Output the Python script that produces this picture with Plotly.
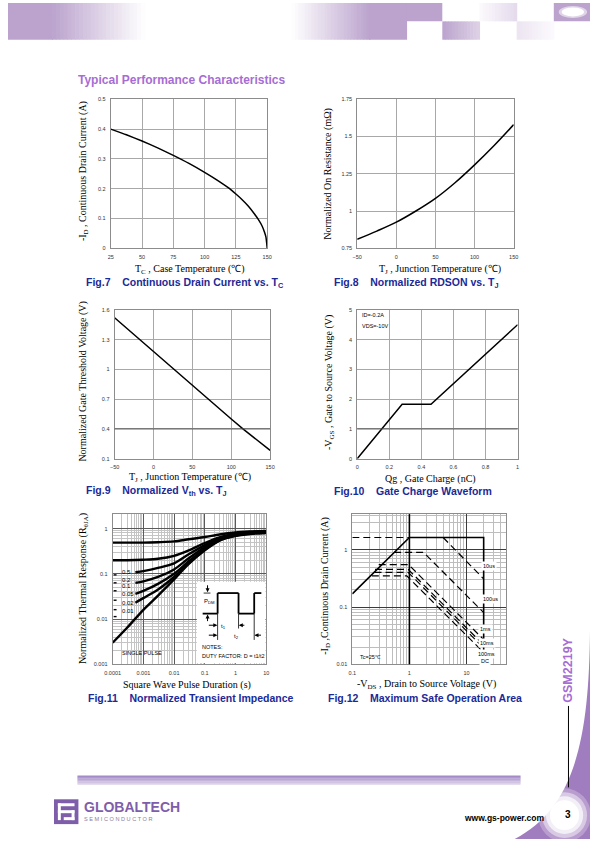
import plotly.graph_objects as go

W, H = 595, 842
SANS = "Liberation Sans, Arial, sans-serif"
SERIF = "Liberation Serif, Times New Roman, serif"
NAVY = "#1B2A96"
TITLE_PURPLE = "#A66DD4"
GRID = "#A8A8A8"
BORDER = "#8C8C8C"

# ---------------- data ----------------
fig7_tc = [25, 37.5, 50, 62.5, 75, 87.5, 100, 110, 120, 125, 130, 135, 140, 143, 146, 148, 149, 150]
fig7_id = [0.400, 0.381, 0.360, 0.337, 0.312, 0.285, 0.255, 0.229, 0.200, 0.182, 0.163, 0.141,
           0.114, 0.096, 0.074, 0.052, 0.037, 0.0]

fig8_tj = [-50, -25, 0, 25, 50, 75, 100, 125, 150]
fig8_rds = [0.81, 0.865, 0.925, 1.0, 1.085, 1.19, 1.31, 1.44, 1.58]

fig9_tj = [-50, -25, 0, 25, 50, 75, 100, 115, 130, 150]
fig9_vth = [1.52, 1.35, 1.18, 1.0, 0.84, 0.67, 0.50, 0.40, 0.31, 0.185]

fig10_qg = [0, 0.28, 0.46, 1.0]
fig10_vgs = [0, 1.83, 1.83, 4.5]

fig11_t_full = [1e-4, 3e-4, 1e-3, 3e-3, 1e-2, 3e-2, 0.1, 0.3, 1, 3, 10]
fig11_t_part = [5.5e-4, 1e-3, 3e-3, 1e-2, 3e-2, 0.1, 0.3, 1, 3, 10]
fig11_d05 = [0.49, 0.49, 0.49, 0.50, 0.52, 0.58, 0.65, 0.74, 0.82, 0.86, 0.89]
fig11_d02 = [0.20, 0.20, 0.205, 0.215, 0.25, 0.33, 0.48, 0.64, 0.77, 0.84, 0.87]
fig11_d01 = [0.108, 0.115, 0.135, 0.17, 0.27, 0.43, 0.62, 0.75, 0.82, 0.86]
fig11_d005 = [0.063, 0.068, 0.085, 0.125, 0.22, 0.39, 0.59, 0.73, 0.80, 0.85]
fig11_d002 = [0.036, 0.042, 0.06, 0.10, 0.19, 0.36, 0.57, 0.71, 0.79, 0.84]
fig11_d001 = [0.023, 0.029, 0.045, 0.085, 0.17, 0.34, 0.55, 0.70, 0.78, 0.83]
fig11_single = [0.003, 0.0065, 0.016, 0.033, 0.075, 0.165, 0.33, 0.54, 0.69, 0.76, 0.80]
fig11_labels = ["0.5", "0.2", "0.1", "0.05", "0.02", "0.01"]

fig12_limit_v = [0.1, 1.0, 20, 20]
fig12_limit_i = [0.17, 1.64, 1.64, 0.01]
fig12_top_v = [0.1, 1.0]
fig12_top_i = [1.64, 1.64]
fig12_10us_v = [3.9, 20]
fig12_10us_i = [1.64, 0.31]
fig12_100us_v = [0.54, 1.77, 20]
fig12_100us_i = [0.90, 0.90, 0.08]
fig12_1ms_v = [0.29, 0.97, 20]
fig12_1ms_i = [0.55, 0.55, 0.027]
fig12_10ms_v = [0.25, 0.95, 20]
fig12_10ms_i = [0.456, 0.456, 0.0217]
fig12_100ms_v = [0.245, 0.95, 20]
fig12_100ms_i = [0.404, 0.404, 0.0192]
fig12_dc_v = [0.22, 0.90, 20]
fig12_dc_i = [0.35, 0.35, 0.016]
fig12_labels = ["10us", "100us", "1ms", "10ms", "100ms", "DC"]


# ---------------- helpers ----------------
def X(x):
    return x / W


def Y(y):
    return 1 - y / H


def dom_x(a, b):
    return [a / W, b / W]


def dom_y(top, bot):
    return [1 - bot / H, 1 - top / H]


TICKFONT = dict(family=SANS, size=5.5, color="#333")


def axis(domain, rng, anchor, **kw):
    d = dict(domain=domain, range=rng, anchor=anchor, showgrid=True, gridcolor=GRID,
             gridwidth=0.8, showline=True, linecolor=BORDER, linewidth=1, mirror=True,
             zeroline=False, ticks="outside", ticklen=3, tickcolor="rgba(0,0,0,0)",
             tickfont=TICKFONT, fixedrange=True)
    d.update(kw)
    return d


shapes = []
annotations = []


def rect(x0, y0, x1, y1, color, layer="above"):
    shapes.append(dict(type="rect", xref="paper", yref="paper", x0=X(x0), x1=X(x1),
                       y0=Y(y1), y1=Y(y0), fillcolor=color, line=dict(width=0), layer=layer))


def lerp(c0, c1, t):
    return "rgb(%d,%d,%d)" % tuple(round(c0[i] + (c1[i] - c0[i]) * t) for i in range(3))


def hgrad(x0, x1, y0, y1, c0, c1, steps=24):
    for i in range(steps):
        xa = x0 + (x1 - x0) * i / steps
        xb = x0 + (x1 - x0) * (i + 1) / steps + 0.6
        rect(xa, y0, xb, y1, lerp(c0, c1, (i + 0.5) / steps))


def vgrad(x0, x1, y0, y1, c0, c1, steps=8):
    for i in range(steps):
        ya = y0 + (y1 - y0) * i / steps
        yb = y0 + (y1 - y0) * (i + 1) / steps + 0.4
        rect(x0, ya, x1, yb, lerp(c0, c1, (i + 0.5) / steps))


def pline(x0, y0, x1, y1, color="black", width=1, dash=None):
    ln = dict(color=color, width=width)
    if dash:
        ln["dash"] = dash
    shapes.append(dict(type="line", xref="paper", yref="paper", x0=X(x0), y0=Y(y0),
                       x1=X(x1), y1=Y(y1), line=ln, layer="above"))


def txt(x, y, s, size=10, color="black", family=SANS, xanchor="center", angle=0,
        bold=False, bg=None):
    a = dict(x=X(x), y=Y(y), xref="paper", yref="paper", text=("<b>%s</b>" % s) if bold else s,
             showarrow=False, font=dict(family=family, size=size, color=color),
             xanchor=xanchor, yanchor="middle", textangle=angle)
    if bg:
        a["bgcolor"] = bg
    annotations.append(a)


def arrow(hx, hy, tx, ty):
    annotations.append(dict(x=X(hx), y=Y(hy), xref="paper", yref="paper", ax=tx - hx,
                            ay=ty - hy, axref="pixel", ayref="pixel", showarrow=True,
                            arrowhead=2, arrowsize=0.8, arrowwidth=1, arrowcolor="black",
                            text=""))


# ---------------- traces ----------------
fig = go.Figure()
LW = dict(color="black", width=1.5)

fig.add_trace(go.Scatter(x=fig7_tc, y=fig7_id, mode="lines",
                         line=dict(LW, shape="spline", smoothing=0.5), xaxis="x", yaxis="y"))
fig.add_trace(go.Scatter(x=fig8_tj, y=fig8_rds, mode="lines", line=dict(LW, shape="spline"),
                         xaxis="x2", yaxis="y2"))
fig.add_trace(go.Scatter(x=fig9_tj, y=fig9_vth, mode="lines", line=LW, xaxis="x3", yaxis="y3"))
fig.add_trace(go.Scatter(x=fig10_qg, y=fig10_vgs, mode="lines", line=LW, xaxis="x4", yaxis="y4"))

TH = dict(color="black", width=2.4, shape="spline", smoothing=0.8)
for yy in (fig11_d05, fig11_d02, fig11_single):
    fig.add_trace(go.Scatter(x=fig11_t_full, y=yy, mode="lines", line=TH, xaxis="x5", yaxis="y5"))
for yy in (fig11_d01, fig11_d005, fig11_d002, fig11_d001):
    fig.add_trace(go.Scatter(x=fig11_t_part, y=yy, mode="lines", line=TH, xaxis="x5", yaxis="y5"))

fig.add_trace(go.Scatter(x=fig12_limit_v, y=fig12_limit_i, mode="lines",
                         line=dict(color="black", width=1.6), xaxis="x6", yaxis="y6"))
DASH = dict(color="black", width=1.2, dash="7px,4px")
for vv, ii in ((fig12_top_v, fig12_top_i), (fig12_10us_v, fig12_10us_i),
               (fig12_100us_v, fig12_100us_i), (fig12_1ms_v, fig12_1ms_i),
               (fig12_10ms_v, fig12_10ms_i), (fig12_100ms_v, fig12_100ms_i),
               (fig12_dc_v, fig12_dc_i)):
    fig.add_trace(go.Scatter(x=vv, y=ii, mode="lines", line=DASH, xaxis="x6", yaxis="y6"))

# ---------------- axes ----------------
lay = {}
lay["xaxis"] = axis(dom_x(105, 265), [25, 150], "y", tickvals=[25, 50, 75, 100, 125, 150])
lay["yaxis"] = axis(dom_y(97, 247), [0, 0.5], "x", tickvals=[0, 0.1, 0.2, 0.3, 0.4, 0.5],
                    ticktext=["0", "0.1", "0.2", "0.3", "0.4", "0.5"])
lay["xaxis2"] = axis(dom_x(357, 517), [-50, 150], "y2", tickvals=[-50, 0, 50, 100, 150])
lay["yaxis2"] = axis(dom_y(97, 247), [0.75, 1.75], "x2", tickvals=[0.75, 1, 1.25, 1.5, 1.75],
                     ticktext=["0.75", "1", "1.25", "1.5", "1.75"])
lay["xaxis3"] = axis(dom_x(109, 268), [-50, 150], "y3", tickvals=[-50, 0, 50, 100, 150])
lay["yaxis3"] = axis(dom_y(309, 459), [0.1, 1.6], "x3", tickvals=[0.1, 0.4, 0.7, 1, 1.3, 1.6],
                     ticktext=["0.1", "0.4", "0.7", "1", "1.3", "1.6"])
lay["xaxis4"] = axis(dom_x(357, 521), [0, 1], "y4", tickvals=[0, 0.2, 0.4, 0.6, 0.8, 1],
                     ticktext=["0", "0.2", "0.4", "0.6", "0.8", "1"])
lay["yaxis4"] = axis(dom_y(309, 459), [0, 5], "x4", tickvals=[0, 1, 2, 3, 4, 5])


def minor_vals(decades, digits=range(2, 10)):
    return [d * 10 ** e for e in decades for d in digits]


lay["xaxis5"] = axis(dom_x(107, 264), [-4, 1], "y5", type="log", gridcolor="#5A5A5A",
                     tickvals=[1e-4, 1e-3, 1e-2, 1e-1, 1, 10],
                     ticktext=["0.0001", "0.001", "0.01", "0.1", "1", "10"],
                     minor=dict(tickmode="array", tickvals=minor_vals(range(-4, 1)),
                                showgrid=True, gridcolor="#C4C4C4", gridwidth=0.6, ticks=""))
lay["yaxis5"] = axis(dom_y(515, 666), [-3, 0.315], "x5", type="log", gridcolor="#5A5A5A",
                     tickvals=[0.001, 0.01, 0.1, 1], ticktext=["0.001", "0.01", "0.1", "1"],
                     minor=dict(tickmode="array", tickvals=minor_vals(range(-3, 0)) + [2],
                                showgrid=True, gridcolor="#C4C4C4", gridwidth=0.6, ticks=""))
lay["xaxis6"] = axis(dom_x(352, 509), [-1, 1.69], "y6", type="log", gridcolor="#3A3A3A",
                     tickvals=[0.1, 1, 10], ticktext=["0.1", "1", "10"],
                     minor=dict(tickmode="array",
                                tickvals=minor_vals(range(-1, 1)) + [20, 30, 40],
                                showgrid=True, gridcolor="#BDBDBD", gridwidth=0.6, ticks=""))
lay["yaxis6"] = axis(dom_y(515, 666), [-2, 0.62], "x6", type="log", gridcolor="#3A3A3A",
                     tickvals=[0.01, 0.1, 1], ticktext=["0.01", "0.1", "1"],
                     minor=dict(tickmode="array", tickvals=minor_vals(range(-2, 0)) + [2, 3, 4],
                                showgrid=True, gridcolor="#BDBDBD", gridwidth=0.6, ticks=""))

# darker reference gridlines
shapes.append(dict(type="line", xref="x3 domain", yref="y3", x0=0, x1=1, y0=0.4, y1=0.4,
                   line=dict(color="#555", width=1), layer="above"))
shapes.append(dict(type="line", xref="x4 domain", yref="y4", x0=0, x1=1, y0=1, y1=1,
                   line=dict(color="#555", width=1), layer="above"))
shapes.append(dict(type="line", xref="x6", yref="y6 domain", x0=1, x1=1, y0=0, y1=1,
                   line=dict(color="black", width=1.6), layer="above"))

# ---------------- header ----------------
P = (187, 163, 205)
WH = (255, 255, 255)
rect(0, 0, 46, 37, lerp(P, P, 0))
hgrad(45, 140, 0, 37, P, WH)
hgrad(290, 370, 0, 37, WH, P)
rect(369, 0, 408, 37, lerp(P, P, 0))
rect(407, 0, 444, 18.5, lerp(P, P, 0))
hgrad(444, 482, 18.5, 37, P, (222, 210, 230), 12)
hgrad(482, 520, 0, 18.5, (252, 250, 253), (228, 218, 236), 12)
hgrad(520, 558, 18.5, 37, (236, 228, 242), (252, 250, 253), 12)
rect(558, 0, 595, 18.5, lerp(P, P, 0))
shapes.append(dict(type="circle", xref="paper", yref="paper", x0=X(563), x1=X(592), y0=Y(15),
                   y1=Y(3), fillcolor="rgba(255,255,255,0.55)", line=dict(width=0)))
shapes.append(dict(type="circle", xref="paper", yref="paper", x0=X(566), x1=X(589), y0=Y(13.5),
                   y1=Y(4.5), fillcolor="white", line=dict(width=0)))

txt(70, 78, "Typical Performance Characteristics", size=12, color=TITLE_PURPLE, xanchor="left",
    bold=True)

# ---------------- axis titles & captions ----------------
txt(186, 268, "T<sub>C</sub> , Case Temperature (℃)", size=10, family=SERIF)
txt(77, 169, "-I<sub>D</sub> , Continuous Drain Current (A)", size=10, family=SERIF, angle=-90)
txt(442, 268, "T<sub>J</sub> , Junction Temperature (℃)", size=10, family=SERIF)
txt(327, 172, "Normalized On Resistance (mΩ)", size=10, family=SERIF, angle=-90)
txt(186, 478, "T<sub>J</sub> , Junction Temperature (℃)", size=10, family=SERIF)
txt(77, 381, "Normalized Gate Threshold Voltage (V)", size=10, family=SERIF, angle=-90)
txt(432, 479, "Qg , Gate Charge (nC)", size=10, family=SERIF)
txt(328, 382, "-V<sub>GS</sub> , Gate to Source Voltage (V)", size=10, family=SERIF, angle=-90)
txt(183, 686.5, "Square Wave Pulse Duration (s)", size=10, family=SERIF)
txt(77, 590, "Normalized Thermal Response (R<sub>θJA</sub>)", size=10, family=SERIF, angle=-90)
txt(428, 686.5, "-V<sub>DS</sub> , Drain to Source Voltage (V)", size=10, family=SERIF)
txt(325, 587, "-I<sub>D</sub> ,Continuous Drain Current (A)", size=10, family=SERIF, angle=-90)

SP = "\u00a0\u00a0\u00a0\u00a0"
caps = [
    (78, 282, "Fig.7" + SP + "Continuous Drain Current vs. T<sub>C</sub>"),
    (331, 282, "Fig.8" + SP + "Normalized RDSON vs. T<sub>J</sub>"),
    (78, 491, "Fig.9" + SP + "Normalized V<sub>th</sub> vs. T<sub>J</sub>"),
    (331, 491, "Fig.10" + SP + "Gate Charge Waveform"),
    (80, 700, "Fig.11" + SP + "Normalized Transient Impedance"),
    (325, 700, "Fig.12" + SP + "Maximum Safe Operation Area"),
]
for cx, cy, s in caps:
    txt(cx, cy, s, size=10.5, color=NAVY, xanchor="left", bold=True)

# fig10 notes
txt(360, 314, "ID=-0.2A", size=5.5, xanchor="left")
txt(360, 325, "VDS=-10V", size=5.5, xanchor="left")

# ---------------- fig11 labels & inset ----------------
lab_y = [573, 581, 587, 595, 604, 612]
dash_y = [576, 584, 592, 601.5, 611, 618]
for s, ly in zip(fig11_labels, lab_y):
    txt(115, ly, s, size=6, xanchor="left")
for dy in dash_y:
    pline(108, dy, 111, dy, width=1.4)
txt(115, 655, "SINGLE PULSE", size=5.5, xanchor="left")

shapes.append(dict(type="rect", xref="x5 domain", yref="y5 domain", x0=0.548, x1=0.995,
                   y0=0.006, y1=0.55, fillcolor="white", line=dict(width=0), layer="above"))
wave = [(199, 615), (214.3, 615), (214.3, 594.3), (235.7, 594.3), (235.7, 615), (251.7, 615),
        (251.7, 594.3), (259, 594.3)]
for (ax0, ay0), (ax1, ay1) in zip(wave[:-1], wave[1:]):
    pline(ax0, ay0, ax1, ay1, width=1.8)
pline(200, 594.3, 207, 594.3, width=0.8)
arrow(204, 593.5, 204, 585)
arrow(204, 616, 204, 624)
txt(206, 603, "P<sub>DM</sub>", size=6, xanchor="center")
pline(214.3, 615, 214.3, 641.5, width=0.8)
pline(235.7, 615, 235.7, 630, width=0.8)
pline(251.7, 615, 251.7, 641.5, width=0.8)
arrow(214, 626.7, 204, 626.7)
arrow(236, 626.7, 243, 626.7)
arrow(214, 636.7, 204, 636.7)
arrow(252, 636.7, 260, 636.7)
txt(220.5, 627.5, "t<sub>1</sub>", size=6, xanchor="center")
txt(233.5, 638.5, "t<sub>2</sub>", size=6, xanchor="center")
txt(196.5, 649, "NOTES:", size=5.5, xanchor="left")
txt(196.5, 657.7, "DUTY FACTOR: D = t1/t2", size=5.5, xanchor="left")

# ---------------- fig12 labels ----------------
f12_pos = [(492, 567), (493, 600), (488.5, 630), (489.5, 645), (489.5, 655.5), (488, 662.5)]
for s, (lx, ly) in zip(fig12_labels, f12_pos):
    txt(lx, ly, s, size=5.5, xanchor="center", bg="white")
txt(358, 659, "Tc=25℃", size=5.5, xanchor="left")

# ---------------- footer ----------------
vgrad(71, 524, 778, 787, (158, 132, 196), (226, 216, 236), 6)

SW = (160, 125, 190)
path = "M %f %f C %f %f, %f %f, %f %f L %f %f Z" % (
    X(595), Y(632), X(594), Y(740), X(580), Y(810), X(518), Y(842), X(595), Y(842))
shapes.append(dict(type="path", xref="paper", yref="paper", path=path,
                   fillcolor=lerp(SW, SW, 0), line=dict(width=0)))
for r, op in ((27, 0.25), (23, 0.45), (19, 0.7), (15, 1.0)):
    shapes.append(dict(type="circle", xref="paper", yref="paper", x0=X(569 - r), x1=X(569 + r),
                       y0=Y(818 + r), y1=Y(818 - r),
                       fillcolor="rgba(255,255,255,%s)" % op, line=dict(width=0)))
pline(573, 708, 573, 790, width=1)
txt(573, 672, "GSM2219Y", size=12.5, color=TITLE_PURPLE, angle=-90, bold=True)

# logo
LOGO = "rgb(126,94,170)"
rect(47, 802, 72, 827, LOGO)
for (a, b, c, d) in ((51, 806, 68, 809), (51, 806, 54, 823), (51, 813, 68, 816),
                     (65, 813, 68, 823), (57, 820, 68, 823)):
    rect(a, b, c, d, "white")
txt(76, 810, "GLOBALTECH", size=14, color=LOGO, xanchor="left", bold=True)
txt(76, 822, "S E M I C O N D U C T O R", size=5.6, color="#8C80A4", xanchor="left")

txt(550, 821, "www.gs-power.com", size=8.5, xanchor="right", bold=True)
txt(573, 817, "3", size=10, bold=True)

fig.update_layout(
    width=W, height=H, margin=dict(l=0, r=0, t=0, b=0),
    paper_bgcolor="white", plot_bgcolor="white", showlegend=False,
    shapes=shapes, annotations=annotations, **lay,
)

fig.write_html("out.html", config=dict(displayModeBar=False),
               post_script="document.body.style.margin='0';document.body.style.padding='0';"
                           "document.body.style.overflow='hidden';")
